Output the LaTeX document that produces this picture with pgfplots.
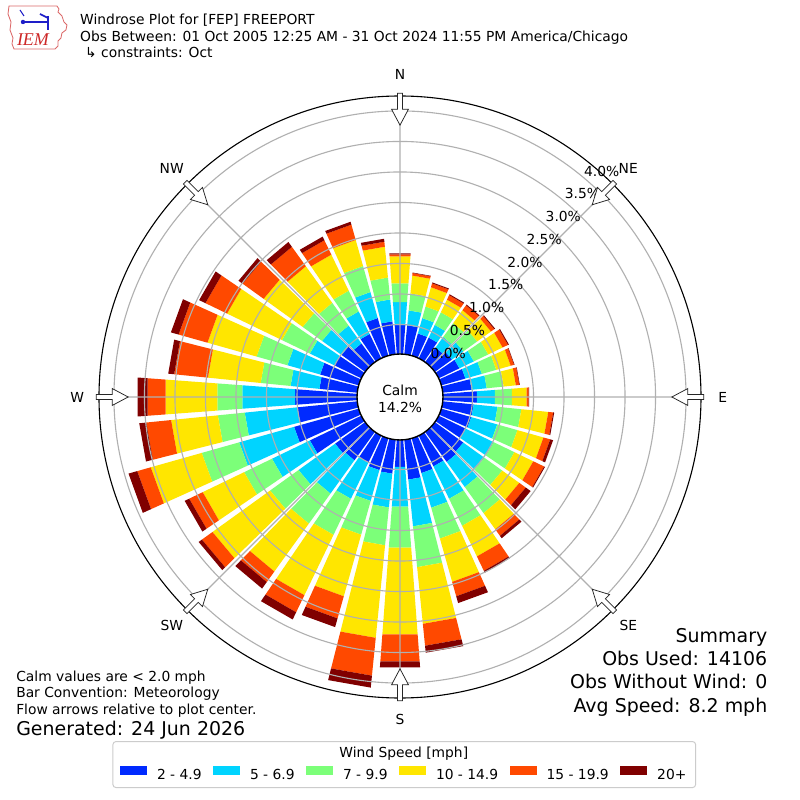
\documentclass[border=0pt]{standalone}
\usepackage{fontspec}
\setmainfont{DejaVu Sans}
\newfontfamily\logofont{Liberation Serif}
\usepackage{pgfplots}
\usepackage{pgfplotstable}
\pgfplotsset{compat=1.18}
\usepgfplotslibrary{polar}

\definecolor{band1}{RGB}{0,42,255}
\definecolor{band2}{RGB}{0,212,255}
\definecolor{band3}{RGB}{124,255,121}
\definecolor{band4}{RGB}{255,230,0}
\definecolor{band5}{RGB}{255,73,0}
\definecolor{band6}{RGB}{128,0,0}
\definecolor{gridgray}{RGB}{176,176,176}
\definecolor{legframe}{RGB}{204,204,204}
\definecolor{logored}{RGB}{205,40,40}
\definecolor{logoblue}{RGB}{30,30,200}

% wind rose: percent of observations per direction and speed band
\pgfplotstableread{
dir b1 b2 b3 b4 b5 b6
0 0.492 0.377 0.311 0.443 0.033 0.016
10 0.492 0.246 0.279 0.295 0.041 0.008
20 0.393 0.262 0.197 0.328 0.066 0.016
30 0.393 0.230 0.230 0.230 0.082 0.016
40 0.311 0.213 0.279 0.262 0.098 0.016
50 0.361 0.230 0.279 0.279 0.066 0.016
60 0.393 0.262 0.262 0.262 0.098 0.016
70 0.426 0.279 0.246 0.246 0.057 0.008
80 0.490 0.250 0.280 0.200 0.057 0.008
90 0.574 0.295 0.279 0.246 0.033 0.008
100 0.525 0.393 0.393 0.443 0.082 0.016
110 0.525 0.443 0.344 0.443 0.115 0.049
120 0.508 0.508 0.377 0.344 0.197 0.016
130 0.590 0.426 0.361 0.344 0.131 0.098
140 0.623 0.508 0.525 0.328 0.131 0.049
150 0.574 0.590 0.492 0.557 0.262 0.033
160 0.607 0.590 0.525 0.738 0.246 0.115
170 0.672 0.770 0.672 0.934 0.361 0.115
180 0.459 0.656 0.672 1.426 0.443 0.098
190 0.574 0.557 0.623 1.525 0.623 0.197
200 0.557 0.525 0.574 1.049 0.377 0.148
210 0.508 0.656 0.656 1.098 0.311 0.131
220 0.590 0.672 0.607 0.967 0.213 0.131
230 0.623 0.738 0.574 1.164 0.213 0.066
240 0.951 0.689 0.508 0.754 0.246 0.082
250 1.115 0.934 0.639 0.869 0.230 0.148
260 1.000 0.869 0.443 0.770 0.410 0.115
270 1.033 0.869 0.410 0.852 0.295 0.164
280 0.639 0.475 0.492 0.869 0.557 0.098
290 0.672 0.557 0.525 0.836 0.492 0.131
300 0.508 0.443 0.508 1.000 0.393 0.115
310 0.492 0.393 0.393 0.787 0.426 0.082
320 0.393 0.361 0.459 0.738 0.393 0.098
330 0.459 0.410 0.377 0.656 0.262 0.066
340 0.656 0.443 0.443 0.443 0.262 0.049
350 0.557 0.361 0.361 0.508 0.082 0.049
}\rosedata

\def\hole{0.689}   % radius of the calm circle, in percent units
\def\halfw{4.25}   % half width of a bar, degrees

\begin{document}
\begin{tikzpicture}
\fill[white] (0,0) rectangle (8in,8in);
\path[use as bounding box] (0,0) rectangle (8in,8in);

% ---------- annotations in pixel coordinates (origin top-left) ----------
\begin{scope}[x=0.01in,y=-0.01in,shift={(0,8in)}]
  % logo
  \draw[logored!70, line width=0.6pt]
    (9,6) -- (57,6) -- (59,9) -- (58,12) -- (62,16) -- (64,22) -- (67,25) -- (66,30)
    -- (62,33) -- (61,38) -- (58,41) -- (58,46) -- (55,49) -- (14,49) -- (12,44)
    -- (13,38) -- (10,30) -- (11,22) -- (8,14) -- cycle;
  \draw[logoblue, line width=1.2pt] (23,22) -- (48,22);
  \fill[logoblue] (23,22) circle (2.2);
  \draw[logoblue, line width=1.2pt] (48,16) -- (48,30);
  \draw[logoblue, line width=1.2pt] (40,14) -- (48,18);
  \draw[logoblue, line width=0.8pt] (20,10) -- (24,16);
  \node[logored, anchor=base, inner sep=0pt, font=\logofont\itshape\fontsize{13}{14}\selectfont] at (33,46) {IEM};

  % title
  \node[anchor=base west, inner sep=0pt] at (80,25) {Windrose Plot for [FEP] FREEPORT};
  \node[anchor=base west, inner sep=0pt] at (80,42) {Obs Between: 01 Oct 2005 12:25 AM - 31 Oct 2024 11:55 PM America/Chicago};
  \node[anchor=base west, inner sep=0pt] at (85,58) {↳ constraints: Oct};

  % bottom left notes
  \node[anchor=base west, inner sep=0pt] at (16,682) {Calm values are < 2.0 mph};
  \node[anchor=base west, inner sep=0pt] at (16,698) {Bar Convention: Meteorology};
  \node[anchor=base west, inner sep=0pt] at (16,715) {Flow arrows relative to plot center.};
  \node[anchor=base west, inner sep=0pt, font=\fontsize{13.7}{16}\selectfont] at (16,736) {Generated: 24 Jun 2026};

  % summary
  \begin{scope}[every node/.style={anchor=base east, inner sep=0pt, font=\fontsize{13.7}{16}\selectfont}]
    \node at (768,643) {Summary};
    \node at (768,666) {Obs Used: 14106};
    \node at (768,689) {Obs Without Wind: 0};
    \node at (768,713) {Avg Speed: 8.2 mph};
  \end{scope}

  % legend frame and title
  \draw[legframe, fill=white, line width=0.7pt, rounded corners=0.03in] (113,742) rectangle (696,788);
  \node[anchor=base, inner sep=0pt] at (404,758) {Wind Speed [mph]};
\end{scope}

% ---------- the wind rose ----------
\begin{polaraxis}[
  at={(4in,4.03in)}, anchor=center,
  scale only axis, width=6.02in, height=6.02in,
  xmin=0, xmax=360, ymin=0, ymax=4.934,
  xtick={0,45,90,135,180,225,270,315},
  ytick={1.189,1.689,2.189,2.689,3.189,3.689,4.189,4.689},
  xticklabels={,,,,,,,}, yticklabels={,,,,,,,},
  major tick length=0pt,
  grid=major,
  major grid style={draw=gridgray, line width=0.8pt},
  axis line style={black, line width=0.8pt},
  y axis line style={draw=none},
  axis on top,
  clip=false,
  legend columns=6,
  legend image code/.code={\fill[#1] (0in,0.005in) rectangle (0.27in,0.095in);},
  legend style={at={(0.0349,-0.1262)}, anchor=west, draw=none, fill=none,
    inner sep=0pt, outer sep=0pt,
    nodes={inner sep=0pt},
    /tikz/every odd column/.style={column sep=0.1in},
    /tikz/every even column/.style={column sep=0.114in}},
]
\foreach \i in {0,...,35}{%
  \pgfplotstablegetelem{\i}{dir}\of\rosedata
  \pgfmathsetmacro\ta{90-\pgfplotsretval-\halfw}%
  \pgfplotstablegetelem{\i}{dir}\of\rosedata
  \pgfmathsetmacro\tb{90-\pgfplotsretval+\halfw}%
  \xdef\cum{\hole}%
  \foreach \k in {1,...,6}{%
    \edef\colname{b\k}%
    \pgfplotstablegetelem{\i}{\colname}\of\rosedata
    \pgfmathsetmacro\rout{\cum+\pgfplotsretval}%
    \edef\temp{\noexpand\addplot[forget plot, draw=none, fill=band\k] coordinates {(\ta,\cum) (\tb,\cum) (\tb,\rout) (\ta,\rout)};}%
    \temp
    \xdef\cum{\rout}%
  }%
}
\addlegendimage{fill=band1, draw=none}\addlegendentry{2 - 4.9}
\addlegendimage{fill=band2, draw=none}\addlegendentry{5 - 6.9}
\addlegendimage{fill=band3, draw=none}\addlegendentry{7 - 9.9}
\addlegendimage{fill=band4, draw=none}\addlegendentry{10 - 14.9}
\addlegendimage{fill=band5, draw=none}\addlegendentry{15 - 19.9}
\addlegendimage{fill=band6, draw=none}\addlegendentry{20+}
\coordinate (C) at (axis cs:0,0);
\end{polaraxis}

% ---------- overlays centred on the rose ----------
\begin{scope}[shift={(C)}, x=0.01in, y=0.01in]
  \filldraw[fill=white, draw=black, line width=1pt] (0,0) circle (43);
  \node[inner sep=0pt] at (0,7) {Calm};
  \node[inner sep=0pt] at (0,-10) {14.2\%};
  % radial labels
  \foreach \k/\lab in {0/0.0,1/0.5,2/1.0,3/1.5,4/2.0,5/2.5,6/3.0,7/3.5,8/4.0}{
    \node[inner sep=0pt] at ({48.3+19.18*\k},{43.7+22.8*\k}) {\lab\%};
  }
  % direction labels and flow arrows
  \foreach \d/\lab in {0/N,45/NE,90/E,135/SE,180/S,225/SW,270/W,315/NW}{
    \node[inner sep=0pt] at ({90-\d}:323) {\lab};
    \begin{scope}[rotate={90-\d}]
      \filldraw[fill=white, draw=black!85, line width=0.55pt]
        (304,-2.6) -- (288,-2.6) -- (288,-8.5) -- (272,0) -- (288,8.5) -- (288,2.6) -- (304,2.6) -- cycle;
    \end{scope}
  }
\end{scope}
\end{tikzpicture}
\end{document}
